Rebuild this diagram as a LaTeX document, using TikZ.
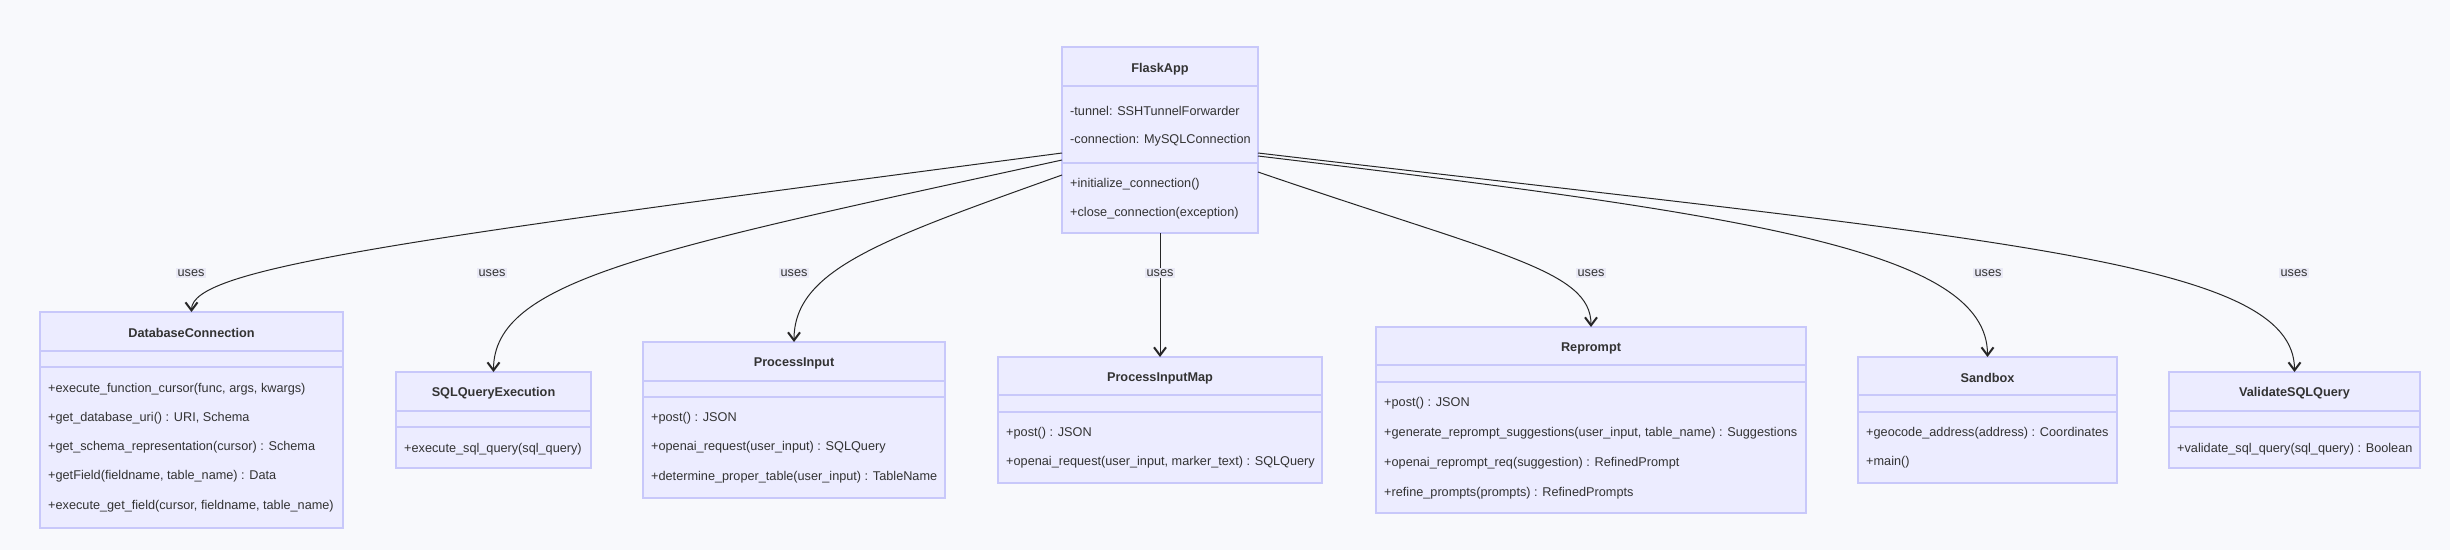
\documentclass[tikz,border=0pt]{standalone}
\usepackage{fontspec}
\setmainfont{Liberation Sans}
\usetikzlibrary{arrows.meta}
\definecolor{bgc}{RGB}{248,249,252}
\definecolor{boxfill}{RGB}{236,236,255}
\definecolor{boxline}{RGB}{200,200,250}
\definecolor{txt}{RGB}{51,51,51}
\definecolor{lblbg}{RGB}{234,234,246}
\tikzset{
  classbox/.style={draw=boxline, fill=boxfill, line width=1.2pt, anchor=north west, inner sep=0pt, outer sep=0pt, rectangle},
  divider/.style={draw=boxline, line width=1.2pt},
  ctitle/.style={font=\fontsize{12.7}{15}\selectfont\bfseries, text=txt, inner sep=0pt},
  member/.style={font=\fontsize{12.7}{15}\selectfont, text=txt, inner sep=0pt, anchor=west},
  uses/.style={draw=black!85, line width=1pt, -{Straight Barb[length=8pt,width=12pt,line width=2pt]}},
  lbl/.style={font=\fontsize{12.7}{15}\selectfont, text=txt, fill=lblbg, inner sep=1.2pt}
}
\begin{document}
\begin{tikzpicture}[x=1pt,y=-1pt]
\useasboundingbox[fill=bgc] (0,0) rectangle (2450,550);

% FlaskApp
\node[classbox, minimum width=196pt, minimum height=186pt] (flask) at (1062,47) {};
\draw[divider] (1062,86) -- (1258,86);
\draw[divider] (1062,163) -- (1258,163);
\node[ctitle] (flask-t) at (1160,69) {FlaskApp};
\node[member] (flask-a1) at (1070,111) {-tunnel: SSHTunnelForwarder};
\node[member] (flask-a2) at (1070,140) {-connection: MySQLConnection};
\node[member] (flask-m1) at (1070,184) {+initialize\_connection()};
\node[member] (flask-m2) at (1070,213) {+close\_connection(exception)};

% DatabaseConnection
\node[classbox, minimum width=303pt, minimum height=216pt] (db) at (40,312) {};
\draw[divider] (40,351) -- (343,351);
\draw[divider] (40,367) -- (343,367);
\node[ctitle] (db-t) at (191.5,333) {DatabaseConnection};
\node[member] (db-m1) at (48,389) {+execute\_function\_cursor(func, args, kwargs)};
\node[member] (db-m2) at (48,418) {+get\_database\_uri() : URI, Schema};
\node[member] (db-m3) at (48,447) {+get\_schema\_representation(cursor) : Schema};
\node[member] (db-m4) at (48,476) {+getField(fieldname, table\_name) : Data};
\node[member] (db-m5) at (48,506) {+execute\_get\_field(cursor, fieldname, table\_name)};

% SQLQueryExecution
\node[classbox, minimum width=195pt, minimum height=96pt] (sqlx) at (396,372) {};
\draw[divider] (396,411) -- (591,411);
\draw[divider] (396,427) -- (591,427);
\node[ctitle] (sqlx-t) at (493.5,393) {SQLQueryExecution};
\node[member] (sqlx-m1) at (404,449) {+execute\_sql\_query(sql\_query)};

% ProcessInput
\node[classbox, minimum width=302pt, minimum height=156pt] (pin) at (643,342) {};
\draw[divider] (643,381) -- (945,381);
\draw[divider] (643,397) -- (945,397);
\node[ctitle] (pin-t) at (794,363) {ProcessInput};
\node[member] (pin-m1) at (651,418) {+post() : JSON};
\node[member] (pin-m2) at (651,447) {+openai\_request(user\_input) : SQLQuery};
\node[member] (pin-m3) at (651,477) {+determine\_proper\_table(user\_input) : TableName};

% ProcessInputMap
\node[classbox, minimum width=324pt, minimum height=126pt] (pim) at (998,357) {};
\draw[divider] (998,395) -- (1322,395);
\draw[divider] (998,412) -- (1322,412);
\node[ctitle] (pim-t) at (1160,378) {ProcessInputMap};
\node[member] (pim-m1) at (1006,433) {+post() : JSON};
\node[member] (pim-m2) at (1006,462) {+openai\_request(user\_input, marker\_text) : SQLQuery};

% Reprompt
\node[classbox, minimum width=430pt, minimum height=186pt] (rep) at (1376,327) {};
\draw[divider] (1376,365) -- (1806,365);
\draw[divider] (1376,382) -- (1806,382);
\node[ctitle] (rep-t) at (1591,348) {Reprompt};
\node[member] (rep-m1) at (1384,403) {+post() : JSON};
\node[member] (rep-m2) at (1384,433) {+generate\_reprompt\_suggestions(user\_input, table\_name) : Suggestions};
\node[member] (rep-m3) at (1384,463) {+openai\_reprompt\_req(suggestion) : RefinedPrompt};
\node[member] (rep-m4) at (1384,493) {+refine\_prompts(prompts) : RefinedPrompts};

% Sandbox
\node[classbox, minimum width=259pt, minimum height=126pt] (sand) at (1858,357) {};
\draw[divider] (1858,395) -- (2117,395);
\draw[divider] (1858,412) -- (2117,412);
\node[ctitle] (sand-t) at (1987.5,378) {Sandbox};
\node[member] (sand-m1) at (1866,433) {+geocode\_address(address) : Coordinates};
\node[member] (sand-m2) at (1866,462) {+main()};

% ValidateSQLQuery
\node[classbox, minimum width=251pt, minimum height=96pt] (val) at (2169,372) {};
\draw[divider] (2169,411) -- (2420,411);
\draw[divider] (2169,427) -- (2420,427);
\node[ctitle] (val-t) at (2294.5,393) {ValidateSQLQuery};
\node[member] (val-m1) at (2177,449) {+validate\_sql\_query(sql\_query) : Boolean};

% Edges
\draw[uses] (flask.west |- 0,153) .. controls (400,240) and (191.5,268) .. (db.north);
\draw[uses] (flask.west |- 0,160) .. controls (650,250) and (493.5,280) .. (sqlx.north);
\draw[uses] (flask.west |- 0,175) .. controls (880,240) and (794,270) .. (pin.north);
\draw[uses] (flask.south) -- (pim.north);
\draw[uses] (flask.east |- 0,172) .. controls (1500,255) and (1591,270) .. (rep.north);
\draw[uses] (flask.east |- 0,156) .. controls (1750,215) and (1987.5,250) .. (sand.north);
\draw[uses] (flask.east |- 0,153) .. controls (2000,240) and (2294.5,260) .. (val.north);

% Labels
\node[lbl] (l1) at (191,273) {uses};
\node[lbl] (l2) at (492,273) {uses};
\node[lbl] (l3) at (794,273) {uses};
\node[lbl] (l4) at (1160,273) {uses};
\node[lbl] (l5) at (1591,273) {uses};
\node[lbl] (l6) at (1988,273) {uses};
\node[lbl] (l7) at (2294,273) {uses};
\end{tikzpicture}
\end{document}
